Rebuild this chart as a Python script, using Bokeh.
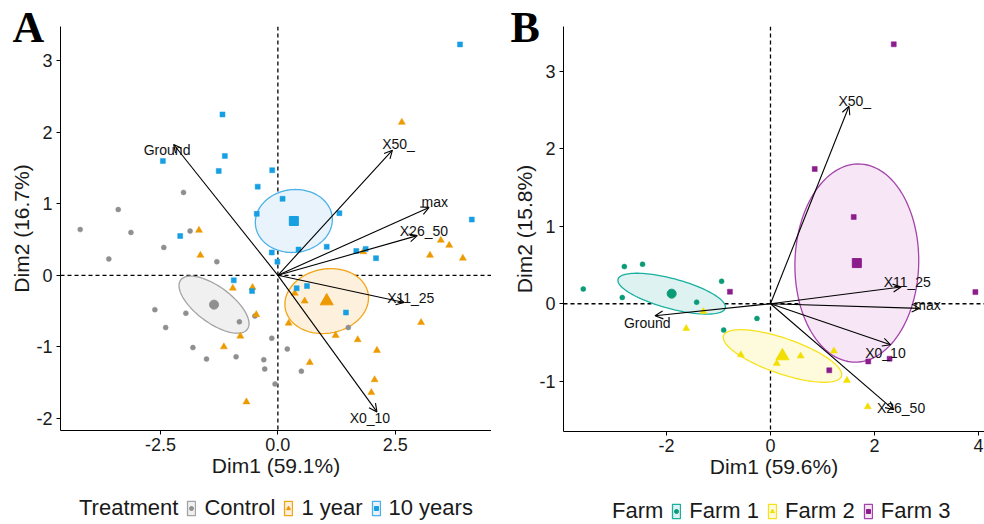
import numpy as np
from bokeh.plotting import figure
from bokeh.models import (ColumnDataSource, Span, Arrow, OpenHead, Legend,
                          LegendItem, FixedTicker, Range1d)
from bokeh.layouts import row, column
from bokeh.embed import file_html
from bokeh.resources import INLINE
from bokeh.core.properties import value

FONT = "Liberation Sans"

# ---------------- Panel A data (Treatment) ----------------
a_title_x = "Dim1 (59.1%)"
a_title_y = "Dim2 (16.7%)"
a_xticks = [-2.5, 0.0, 2.5]
a_xtick_labels = ["-2.5", "0.0", "2.5"]
a_yticks = [-2, -1, 0, 1, 2, 3]
a_ytick_labels = ["-2", "-1", "0", "1", "2", "3"]
a_groups = ["Control", "1 year", "10 years"]

ctrl_x = [-2.01, -3.40, -4.21, -3.13, -1.87, -2.43, -3.60, -1.30, -2.62, -1.96, -2.39, -0.82,
          -0.49, -0.13, -1.81, -1.52, -0.89, -0.30, -0.28, -0.06, 1.50, 0.20, 0.50]
ctrl_y = [1.16, 0.92, 0.64, 0.60, 0.62, 0.39, 0.23, 0.19, -0.48, -0.53, -0.73, -0.65,
          -0.57, -0.88, -1.01, -1.17, -1.14, -1.18, -1.31, -1.52, -0.73, -1.03, -1.34]
y1_x = [-1.68, -1.65, 2.64, 1.82, 3.47, 3.65, 3.24, 3.94, -0.96, -0.54, -0.46, -0.80,
        -1.15, -0.67, 0.36, 0.57, 0.23, 1.23, 1.70, 3.05, 2.11, 0.68, 2.06, 1.99]
y1_y = [0.63, 0.28, 2.14, 0.33, 0.49, 0.42, 0.28, 0.24, -0.18, -0.17, -0.55, -0.85,
        -1.00, -1.77, -0.25, -0.36, -0.67, -0.84, -0.90, -0.66, -1.05, -1.22, -1.46, -1.64]
y10_x = [-2.45, -1.13, -1.26, -0.12, -0.43, 0.10, -0.45, -2.08, -0.13, -0.01, -0.94, -1.18,
         3.88, 4.13, 1.31, 0.44, 1.04, 1.67, 1.87, 2.09, -0.55, 0.40, 0.62, 1.45]
y10_y = [1.60, 1.67, 1.46, 1.47, 1.24, 1.07, 0.86, 0.55, 0.32, 0.19, -0.07, 2.25,
         3.23, 0.78, 0.87, 0.36, 0.40, 0.34, 0.37, 0.24, -0.22, -0.18, -0.15, -0.52]
a_mean_x = [-1.36, 1.04, 0.34]
a_mean_y = [-0.41, -0.36, 0.76]
# ellipse half-axis vectors (data units): major (u) and minor (v)
a_ell_u = [(0.71, -0.344), (0.89, 0.06), (0.82, 0.02)]
a_ell_v = [(-0.227, -0.203), (-0.03, 0.45), (0.0, 0.44)]

a_var = ["Ground", "X50_", "max", "X26_50", "X11_25", "X0_10"]
a_var_x = [-2.22, 2.44, 3.22, 2.97, 2.69, 2.11]
a_var_y = [1.83, 1.75, 0.95, 0.555, -0.38, -1.91]
a_lab_x = [-2.36, 2.57, 3.34, 3.11, 2.83, 1.96]
a_lab_y = [1.75, 1.83, 1.03, 0.615, -0.31, -2.00]

# ---------------- Panel B data (Farm) ----------------
b_title_x = "Dim1 (59.6%)"
b_title_y = "Dim2 (15.8%)"
b_xticks = [-2, 0, 2, 4]
b_xtick_labels = ["-2", "0", "2", "4"]
b_yticks = [-1, 0, 1, 2, 3]
b_ytick_labels = ["-1", "0", "1", "2", "3"]
b_groups = ["Farm 1", "Farm 2", "Farm 3"]

f1_x = [-3.60, -2.81, -2.46, -2.85, -0.94, -1.42, -0.90, -0.26]
f1_y = [0.19, 0.48, 0.51, 0.08, 0.29, 0.02, -0.34, -0.19]
f2_x = [-1.29, -1.62, -0.57, 0.12, 1.22, 1.47, 0.58, 1.87]
f2_y = [-0.10, -0.32, -0.66, -0.77, -0.61, -0.99, -0.675, -1.33]
f3_x = [1.60, 3.94, 1.88, 2.29, 1.13, 2.37, 0.85, -0.78]
f3_y = [1.12, 0.15, -0.745, -0.71, -0.86, 3.35, 1.74, 0.155]
b_mean_x = [-1.90, 0.23, 1.66]
b_mean_y = [0.13, -0.675, 0.525]
b_ell_u = [(1.031, -0.186), (1.133, -0.262), (1.19, 0.0)]
b_ell_v = [(-0.075, -0.187), (-0.111, -0.216), (0.03, 1.28)]

b_var = ["X50_", "X11_25", "max", "X0_10", "X26_50", "Ground"]
b_var_x = [1.51, 2.51, 2.87, 2.31, 2.37, -2.22]
b_var_y = [2.55, 0.215, -0.06, -0.53, -1.37, -0.155]
b_lab_x = [1.62, 2.63, 3.02, 2.21, 2.51, -2.37]
b_lab_y = [2.62, 0.28, -0.02, -0.63, -1.35, -0.25]

MARKERS = ["circle", "triangle", "square"]
A_PTS = ["#8f8f8f", "#ec9a00", "#169fe2"]
A_LINE = ["#a3a3a3", "#f2a516", "#4cb0e8"]
A_FILL = ["#f0f0f0", "#fdf0dc", "#e8f3fc"]
B_PTS = ["#0a9b77", "#f2de00", "#8b1c8c"]
B_LINE = ["#18b0a0", "#f7e21a", "#a443aa"]
B_FILL = ["#def3f1", "#fefbdc", "#f6e6f6"]

TOP_H = 484  # height of the two panels; legend strip below


def ellipse_pts(cx, cy, u, v, n=120):
    t = np.linspace(0, 2 * np.pi, n)
    xs = cx + u[0] * np.cos(t) + v[0] * np.sin(t)
    ys = cy + u[1] * np.cos(t) + v[1] * np.sin(t)
    return list(xs), list(ys)


def make_fig(xr, yr, fw, fh, left, top, xt, xl, yt, yl, xtitle, ytitle, letter, loff):
    p = figure(x_range=Range1d(*xr), y_range=Range1d(*yr), frame_width=fw, frame_height=fh,
               min_border_left=left, min_border_right=0, min_border_top=top,
               min_border_bottom=TOP_H - top - fh, output_backend="svg", toolbar_location=None)
    p.outline_line_color = None
    p.grid.visible = False
    p.background_fill_color = "white"
    p.border_fill_color = "white"
    p.xaxis.ticker = FixedTicker(ticks=xt)
    p.xaxis.major_label_overrides = {float(k): v for k, v in zip(xt, xl)}
    p.yaxis.ticker = FixedTicker(ticks=yt)
    p.yaxis.major_label_overrides = {float(k): v for k, v in zip(yt, yl)}
    p.xaxis.axis_label = xtitle
    p.yaxis.axis_label = ytitle
    for ax in (p.xaxis[0], p.yaxis[0]):
        ax.axis_line_color = "black"
        ax.axis_line_width = 1
        ax.major_tick_line_color = "black"
        ax.major_tick_out = 4
        ax.major_tick_in = 0
        ax.minor_tick_line_color = None
        ax.major_label_text_font = FONT
        ax.major_label_text_font_size = "18px"
        ax.major_label_text_color = "#1a1a1a"
        ax.axis_label_text_font = FONT
        ax.axis_label_text_font_size = "21px"
        ax.axis_label_text_font_style = "normal"
        ax.axis_label_text_color = "#1a1a1a"
    p.xaxis.major_label_standoff = 3
    p.xaxis.axis_label_standoff = 0
    p.yaxis.major_label_standoff = 4
    p.yaxis.axis_label_standoff = 0
    # panel letter as the figure title
    p.title.text = letter
    p.title.text_font = "Liberation Serif"
    p.title.text_font_style = "bold"
    p.title.text_font_size = "44px"
    p.title.text_color = "black"
    p.title.align = "left"
    p.title.vertical_align = "bottom"
    p.title.offset = loff
    p.title.standoff = -50
    p.add_layout(Span(location=0, dimension="width", line_color="black", line_width=1.3,
                      line_dash="4 3", level="underlay"))
    p.add_layout(Span(location=0, dimension="height", line_color="black", line_width=1.3,
                      line_dash="4 3", level="underlay"))
    return p


def build(p, xs, ys, pcols, lcols, fcols, sizes, msizes, mx, my, eu, ev, var, vx, vy, lx, ly):
    for i in range(len(xs)):
        ex, ey = ellipse_pts(mx[i], my[i], eu[i], ev[i])
        p.patch(ex, ey, fill_color=fcols[i], fill_alpha=1.0, line_color=lcols[i], line_width=1.3)
    for i in range(len(xs)):
        p.scatter(xs[i], ys[i], marker=MARKERS[i], size=sizes[i], fill_color=pcols[i],
                  line_color=pcols[i], line_width=0.5)
        p.scatter([mx[i]], [my[i]], marker=MARKERS[i], size=msizes[i], fill_color=pcols[i],
                  line_color=pcols[i])
    src = ColumnDataSource(dict(x=vx, y=vy, lx=lx, ly=ly, name=var))
    p.add_layout(Arrow(end=OpenHead(size=8, line_width=1.1, line_color="black"),
                       x_start=0, y_start=0, x_end="x", y_end="y", source=src,
                       line_color="black", line_width=1.1))
    p.text(x="lx", y="ly", text="name", source=src, text_font=value(FONT),
           text_font_size="14px", text_align="center", text_baseline="middle",
           text_color="#111111")


pA = make_fig((-4.63, 4.55), (-2.17, 3.48), 431, 404, 60, 23,
              a_xticks, a_xtick_labels, a_yticks, a_ytick_labels, a_title_x, a_title_y, "A", -48)
build(pA, [ctrl_x, y1_x, y10_x], [ctrl_y, y1_y, y10_y], A_PTS, A_LINE, A_FILL,
      [5, 7, 5], [9, 13, 9], a_mean_x, a_mean_y, a_ell_u, a_ell_v,
      a_var, a_var_x, a_var_y, a_lab_x, a_lab_y)

pB = make_fig((-3.98, 4.115), (-1.65, 3.58), 421, 405, 72, 26,
              b_xticks, b_xtick_labels, b_yticks, b_ytick_labels, b_title_x, b_title_y, "B", -53)
build(pB, [f1_x, f2_x, f3_x], [f1_y, f2_y, f3_y], B_PTS, B_LINE, B_FILL,
      [5, 7, 5], [9, 13, 9], b_mean_x, b_mean_y, b_ell_u, b_ell_v,
      b_var, b_var_x, b_var_y, b_lab_x, b_lab_y)

# ---------------- legend strip ----------------
pL = figure(width=984, height=524 - TOP_H, x_range=Range1d(0, 1), y_range=Range1d(0, 1),
            x_axis_location=None, y_axis_location=None, min_border=0,
            output_backend="svg", toolbar_location=None)
pL.outline_line_color = None
pL.grid.visible = False
pL.background_fill_color = "white"
pL.border_fill_color = "white"


def add_legend(title, groups, pcols, lcols, fcols, loc):
    # proxy glyphs sit outside the strip's visible range; only their legend keys show
    dummy = pL.scatter(x=[], y=[], size=0, fill_alpha=0, line_alpha=0)
    items = [LegendItem(label=title, renderers=[dummy])]
    for i, g in enumerate(groups):
        pr = pL.patch(x=[5, 6, 6], y=[5, 5, 6], fill_color=fcols[i], line_color=lcols[i],
                      line_width=1.3)
        sr = pL.scatter(x=[5], y=[5], marker=MARKERS[i], size=6, fill_color=pcols[i],
                        line_color=pcols[i])
        items.append(LegendItem(label=g, renderers=[pr, sr]))
    leg = Legend(items=items, orientation="horizontal", location=loc,
                 glyph_width=10, glyph_height=18, label_standoff=8, spacing=8,
                 padding=0, margin=0, border_line_color=None, background_fill_alpha=0,
                 label_text_font=FONT, label_text_font_size="22px", label_text_color="#1a1a1a")
    pL.add_layout(leg, "center")


add_legend("Treatment", a_groups, A_PTS, A_LINE, A_FILL, (61, 3))
add_legend("Farm", b_groups, B_PTS, B_LINE, B_FILL, (594, 0))

layout = column(row(pA, pB, spacing=0), pL, spacing=0)
open("out.html", "w").write(file_html(layout, INLINE))
